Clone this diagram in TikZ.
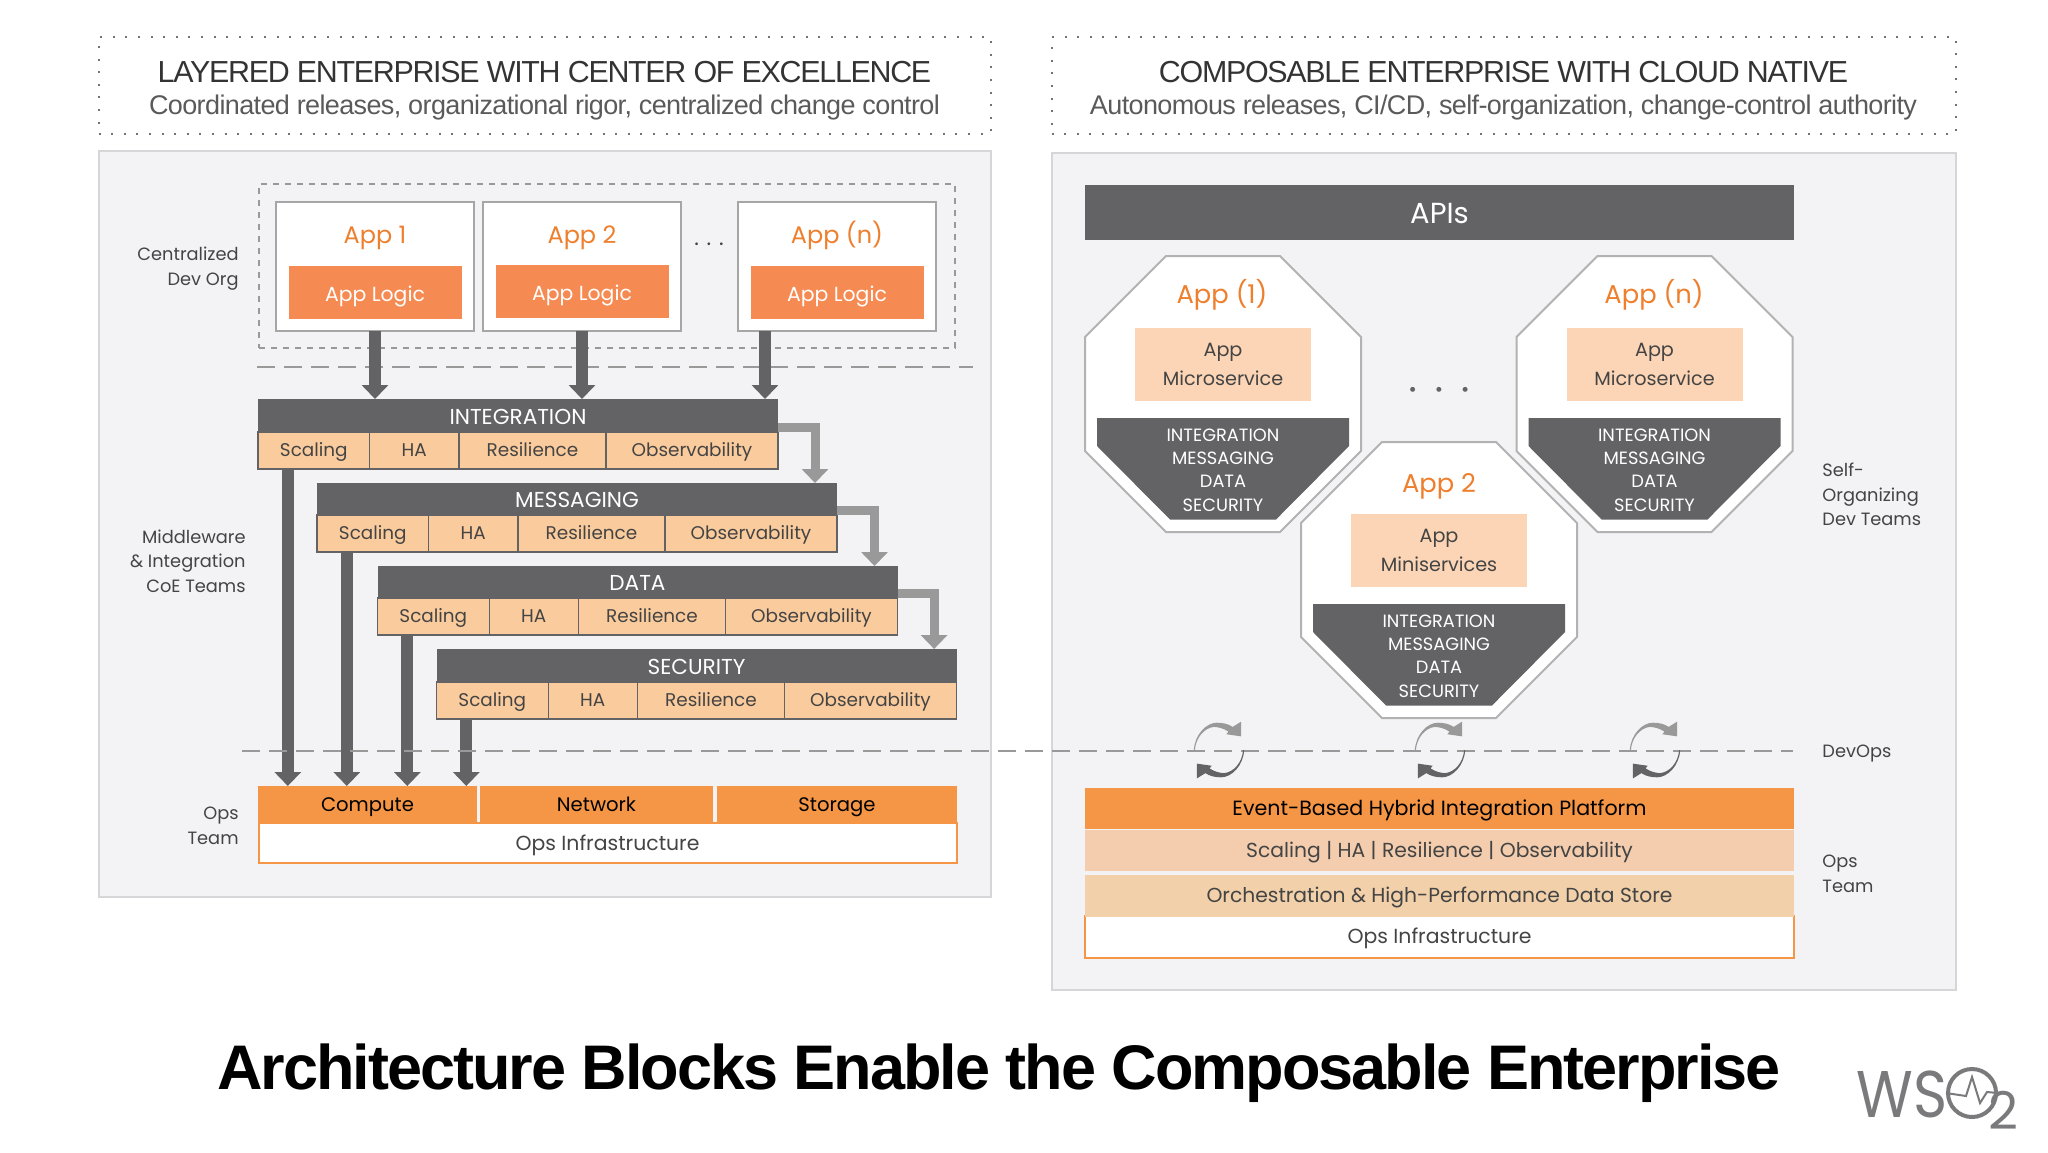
\documentclass[tikz,border=0pt]{standalone}
\usepackage{fontspec}
\usepackage{xcolor}
\usetikzlibrary{arrows.meta}
\setmainfont{Poppins}
\newfontfamily\headfont{Liberation Sans}[LetterSpace=-4.2]
\newfontfamily\subfont{Liberation Sans}[LetterSpace=-2.3]
\newfontfamily\titlefont{Liberation Sans}[LetterSpace=-3.2]
\definecolor{panelgray}{HTML}{F3F3F5}
\definecolor{panelline}{HTML}{D6D6D8}
\definecolor{darkbar}{HTML}{636264}
\definecolor{midgray}{HTML}{999999}
\definecolor{peach}{HTML}{FACB9C}
\definecolor{lightpeach}{HTML}{FBD5B5}
\definecolor{rowpeach}{HTML}{F3CDAE}
\definecolor{rowpeachb}{HTML}{F1D0AA}
\definecolor{strongorange}{HTML}{F59647}
\definecolor{logicorange}{HTML}{F58A52}
\definecolor{titleorange}{HTML}{EE7F2D}
\definecolor{textgray}{HTML}{444444}
\definecolor{subgray}{HTML}{5A5A5A}
\definecolor{logogray}{HTML}{7A7A7C}
\tikzset{
  lbl/.style={font=\fontsize{8.9}{12.3}\selectfont, text=textgray, inner sep=0pt},
  sidelbl/.style={lbl, align=right, anchor=east},
  siderlbl/.style={lbl, align=left, anchor=west},
  dotbox/.style={draw=black!55, line width=1pt, dash pattern=on 1pt off 5.3pt},
  panel/.style={draw=panelline, fill=panelgray, line width=1pt},
  appbox/.style={draw=gray!70, fill=white, line width=1pt, inner sep=0pt, outer sep=0pt},
  inline/.style={text height=8.2pt, text depth=1pt, inner sep=0pt, outer sep=0pt},
  logic/.style={inline, text height=9.2pt, text depth=0.6pt, fill=logicorange, text=white, font=\fontsize{10.2}{12}\selectfont},
  apptitle/.style={text=titleorange, font=\fontsize{12}{14}\selectfont, inner sep=0pt, text height=11.5pt, text depth=2.5pt},
  octtitle/.style={apptitle, font=\fontsize{12.9}{14}\selectfont},
  layer/.style={fill=darkbar, text=white, font=\fontsize{10.8}{12}\selectfont, text height=8.6pt, text depth=0pt, inner sep=0pt, outer sep=0pt},
  cell/.style={inline, text height=7.6pt, text depth=1.4pt, draw=darkbar, fill=peach, text=textgray, font=\fontsize{9.2}{12}\selectfont, line width=0.6pt},
  rack/.style={inline, fill=strongorange, text=black, font=\fontsize{9.8}{12}\selectfont},
  infra/.style={inline, draw=strongorange, fill=white, text=textgray, font=\fontsize{10.2}{12}\selectfont, line width=1pt},
  row/.style={inline, text=textgray, font=\fontsize{10.15}{12}\selectfont},
  micro/.style={fill=lightpeach, text=textgray, align=center, font=\fontsize{9.6}{14.5}\selectfont, inner sep=0pt, outer sep=0pt},
  stacktxt/.style={text=white, align=center, font=\fontsize{8.9}{11.7}\selectfont, inner sep=0pt},
  flow/.style={draw=darkbar, line width=6pt, -{Triangle[length=7pt,width=13pt]}},
  hand/.style={draw=midgray, line width=4.5pt, -{Triangle[length=7pt,width=13pt]}},
  splitline/.style={draw=midgray, line width=1pt, dash pattern=on 9pt off 4.5pt},
  octagon/.pic={
    \filldraw[draw=gray!60, fill=white, line width=1pt] (-138,-57) -- (-57,-138) -- (57,-138) -- (138,-57) -- (138,57) -- (57,138) -- (-57,138) -- (-138,57) -- cycle;
    \fill[darkbar] (-126,24) -- (126,24) -- (126,52) -- (53,125.5) -- (-53,125.5) -- (-126,52) -- cycle;
  },
  syncmark/.pic={
    \fill[midgray] (-24,0) .. controls (-23,-15) and (-12,-26) .. (-2,-26) .. controls (3,-26) and (9,-25) .. (13,-22) -- (21,-27) -- (21,-13) -- (7,-15) -- (9,-17.5) .. controls (4,-21) and (-2,-22) .. (-5,-22) .. controls (-14,-21) and (-22,-12) .. (-23,0) -- cycle;
    \fill[darkbar] (24,0) .. controls (23,15) and (12,26) .. (2,26) .. controls (-3,26) and (-9,25) .. (-13,22) -- (-21,27) -- (-21,13) -- (-7,15) -- (-9,17.5) .. controls (-4,21) and (2,22) .. (5,22) .. controls (14,21) and (22,12) .. (23,0) -- cycle;
  },
}
\begin{document}
\begin{tikzpicture}[x=0.5pt,y=-0.5pt]
  \useasboundingbox (0,0) rectangle (2048,1152);

  % Headers
  \node[dotbox, minimum width=446pt, minimum height=48.5pt] (headL) at (544.5,85.5) {};
  \node[dotbox, minimum width=452pt, minimum height=48.5pt] (headR) at (1503.5,85.5) {};
  \node[inner sep=0pt, text=black!80, font=\headfont\fontsize{15.2}{18}\selectfont] (headLa) at (544.5,72) {LAYERED ENTERPRISE WITH CENTER OF EXCELLENCE};
  \node[inner sep=0pt, text=subgray, font=\subfont\fontsize{13.5}{18}\selectfont] (headLb) at (544.5,107.5) {Coordinated releases, organizational rigor, centralized change control};
  \node[inner sep=0pt, text=black!80, font=\headfont\fontsize{15.2}{18}\selectfont] (headRa) at (1503.5,72) {COMPOSABLE ENTERPRISE WITH CLOUD NATIVE};
  \node[inner sep=0pt, text=subgray, font=\subfont\fontsize{13.5}{18}\selectfont] (headRb) at (1503.5,107.5) {Autonomous releases, CI/CD, self-organization, change-control authority};

  % Panels
  \node[panel, minimum width=446pt, minimum height=373pt] (panelL) at (544.5,524) {};
  \node[panel, minimum width=452pt, minimum height=418.5pt] (panelR) at (1503.5,571.5) {};

  % Left apps
  \node[draw=midgray, dashed, line width=0.8pt, minimum width=348pt, minimum height=82pt] (devorg) at (607,266) {};
  \node[appbox, minimum width=99pt, minimum height=64.5pt] (app1) at (375,266.5) {};
  \node[appbox, minimum width=99pt, minimum height=64.5pt] (app2) at (582,266.5) {};
  \node[appbox, minimum width=99pt, minimum height=64.5pt] (appn) at (837,266.5) {};
  \node[apptitle] (app1t) at (375,234) {App 1};
  \node[apptitle] (app2t) at (582,234) {App 2};
  \node[apptitle] (appnt) at (837,234) {App (n)};
  \node[logic, minimum width=86.5pt, minimum height=26.5pt] (logic1) at (375,292.5) {App Logic};
  \node[logic, minimum width=86.5pt, minimum height=26.5pt] (logic2) at (582,291.5) {App Logic};
  \node[logic, minimum width=86.5pt, minimum height=26.5pt] (logicn) at (837,292.5) {App Logic};
  \node[inner sep=0pt, font=\fontsize{11}{12}\selectfont, text=textgray] (dotsL) at (709,244) {. . .};
  \draw[splitline] (257,367) -- (973,367);

  % Side labels, left
  \node[sidelbl] (lblDev) at (239,268.5) {Centralized\\Dev Org};
  \node[sidelbl] (lblCoe) at (246,561) {Middleware\\\& Integration\\CoE Teams};
  \node[sidelbl] (lblOpsL) at (239,826) {Ops\\Team};

  % Integration layer
  \node[layer, minimum width=260pt, minimum height=16.5pt] (integ) at (518,415.5) {INTEGRATION};
  \node[cell, minimum width=55.8pt, minimum height=18.5pt] (sc1) at (313.8,450.5) {Scaling};
  \node[cell, minimum width=44.7pt, minimum height=18.5pt] (ha1) at (414.3,450.5) {HA};
  \node[cell, minimum width=73.5pt, minimum height=18.5pt] (re1) at (532.5,450.5) {Resilience};
  \node[cell, minimum width=86pt, minimum height=18.5pt] (ob1) at (692,450.5) {Observability};

  % Messaging layer
  \node[layer, minimum width=260pt, minimum height=16pt] (msg) at (577,499) {MESSAGING};
  \node[cell, minimum width=55.8pt, minimum height=18.5pt] (sc2) at (372.8,533.5) {Scaling};
  \node[cell, minimum width=44.7pt, minimum height=18.5pt] (ha2) at (473.3,533.5) {HA};
  \node[cell, minimum width=73.5pt, minimum height=18.5pt] (re2) at (591.5,533.5) {Resilience};
  \node[cell, minimum width=86pt, minimum height=18.5pt] (ob2) at (751,533.5) {Observability};

  % Data layer
  \node[layer, minimum width=260pt, minimum height=16pt] (data) at (637.5,582) {DATA};
  \node[cell, minimum width=55.8pt, minimum height=18.5pt] (sc3) at (433.3,616.5) {Scaling};
  \node[cell, minimum width=44.7pt, minimum height=18.5pt] (ha3) at (533.8,616.5) {HA};
  \node[cell, minimum width=73.5pt, minimum height=18.5pt] (re3) at (652,616.5) {Resilience};
  \node[cell, minimum width=86pt, minimum height=18.5pt] (ob3) at (811.5,616.5) {Observability};

  % Security layer
  \node[layer, minimum width=260pt, minimum height=16.5pt] (sec) at (696.5,665.5) {SECURITY};
  \node[cell, minimum width=55.8pt, minimum height=18.5pt] (sc4) at (492.3,700.5) {Scaling};
  \node[cell, minimum width=44.7pt, minimum height=18.5pt] (ha4) at (592.8,700.5) {HA};
  \node[cell, minimum width=73.5pt, minimum height=18.5pt] (re4) at (711,700.5) {Resilience};
  \node[cell, minimum width=86pt, minimum height=18.5pt] (ob4) at (870.5,700.5) {Observability};

  % Ops block, left
  \node[infra, minimum width=349pt, minimum height=20pt] (infraL) at (607.5,843) {Ops Infrastructure};
  \node[rack, minimum width=109.5pt, minimum height=18.5pt] (compute) at (367.5,804.5) {Compute};
  \node[rack, minimum width=116.5pt, minimum height=18.5pt] (network) at (596.5,804.5) {Network};
  \node[rack, minimum width=120pt, minimum height=18.5pt] (storage) at (837,804.5) {Storage};

  % Left arrows
  \draw[flow] (app1.south) -- (app1.south |- integ.north);
  \draw[flow] (app2.south) -- (app2.south |- integ.north);
  \draw[flow] ([xshift=-36pt]appn.south) -- ([xshift=-36pt]appn.south |- integ.north);
  \draw[hand] ([yshift=2.5pt]ob1.north east) -| ([xshift=119pt]msg.north);
  \draw[hand] ([yshift=2.5pt]ob2.north east) -| ([xshift=118.5pt]data.north);
  \draw[hand] ([yshift=2.5pt]ob3.north east) -| ([xshift=118.8pt]sec.north);
  \draw[flow] ([xshift=-13pt]sc1.south) -- ([xshift=-13pt]sc1.south |- compute.north);
  \draw[flow] ([xshift=-13pt]sc2.south) -- ([xshift=-13pt]sc2.south |- compute.north);
  \draw[flow] ([xshift=-13pt]sc3.south) -- ([xshift=-13pt]sc3.south |- compute.north);
  \draw[flow] ([xshift=-13pt]sc4.south) -- ([xshift=-13pt]sc4.south |- compute.north);

  % DevOps line
  \draw[splitline] (242,751) -- (1793,751);

  % APIs
  \node[fill=darkbar, minimum width=354.5pt, minimum height=27.5pt, inner sep=0pt] (apis) at (1439.5,212) {};
  \node[text=white, font=\fontsize{14.5}{16}\selectfont, inner sep=0pt] (apist) at (1439.5,213.5) {APIs};

  % App (1)
  \pic at (1223,394) {octagon};
  \node[octtitle] (oct1t) at (1222,294) {App (1)};
  \node[micro, minimum width=88pt, minimum height=36.5pt] (ms1) at (1223,364.5) {App\\Microservice};
  \node[stacktxt] (st1) at (1223,470) {INTEGRATION\\MESSAGING\\DATA\\SECURITY};

  % App (n)
  \pic at (1654.5,394) {octagon};
  \node[octtitle] (octnt) at (1654,294) {App (n)};
  \node[micro, minimum width=88pt, minimum height=36.5pt] (msn) at (1654.5,364.5) {App\\Microservice};
  \node[stacktxt] (stn) at (1654.5,470) {INTEGRATION\\MESSAGING\\DATA\\SECURITY};

  % App 2
  \pic at (1439,580) {octagon};
  \node[octtitle] (oct2t) at (1439,483) {App 2};
  \node[micro, minimum width=88pt, minimum height=36.5pt] (ms2) at (1439,550.5) {App\\Miniservices};
  \node[stacktxt] (st2) at (1439,656) {INTEGRATION\\MESSAGING\\DATA\\SECURITY};

  \node[inner sep=0pt, font=\fontsize{10}{10}\selectfont, text=darkbar] (dotsR) at (1439,392) {\textbullet\hspace{9pt}\textbullet\hspace{9pt}\textbullet};

  % Sync marks
  \pic[scale=1.05] at (1219,750) {syncmark};
  \pic[scale=1.05] at (1440,750) {syncmark};
  \pic[scale=1.05] at (1655,750) {syncmark};

  % Platform stack
  \node[infra, minimum width=354.5pt, minimum height=21pt] (infraR) at (1439.5,936.5) {Ops Infrastructure};
  \node[rack, font=\fontsize{10.3}{12}\selectfont, minimum width=354.5pt, minimum height=20.5pt] (eventp) at (1439.5,808.5) {Event-Based Hybrid Integration Platform};
  \node[row, fill=rowpeach, minimum width=354.5pt, minimum height=20.5pt] (scal) at (1439.5,850) {Scaling | HA | Resilience | Observability};
  \node[row, fill=rowpeachb, minimum width=354.5pt, minimum height=21pt] (orch) at (1439.5,895.5) {Orchestration \& High-Performance Data Store};

  % Side labels, right
  \node[siderlbl] (lblSelf) at (1822,494.5) {Self-\\Organizing\\Dev Teams};
  \node[siderlbl] (lblDevops) at (1822,754) {DevOps};
  \node[siderlbl] (lblOpsR) at (1822,874) {Ops\\Team};

  % Title and logo
  \node[inner sep=0pt, font=\titlefont\bfseries\fontsize{31.5}{34}\selectfont] (title) at (999,1073) {Architecture Blocks Enable the Composable Enterprise};
  \node[inner sep=0pt, anchor=east, xscale=0.88, text=logogray, font=\fontsize{33}{33}\selectfont] (logoWS) at (1948,1094) {WS};
  \node[draw=logogray, circle, line width=2pt, minimum size=24pt, inner sep=0pt] (logoO) at (1972,1093) {};
  \draw[logogray, line width=1pt] (logoO.west) -- (1966,1096) -- (1972,1077) -- (1980,1103) -- (1987,1092) -- (logoO.east);
  \node[inner sep=0pt, text=logogray, font=\fontsize{26}{26}\selectfont] (logo2) at (2003,1110) {2};
\end{tikzpicture}
\end{document}
